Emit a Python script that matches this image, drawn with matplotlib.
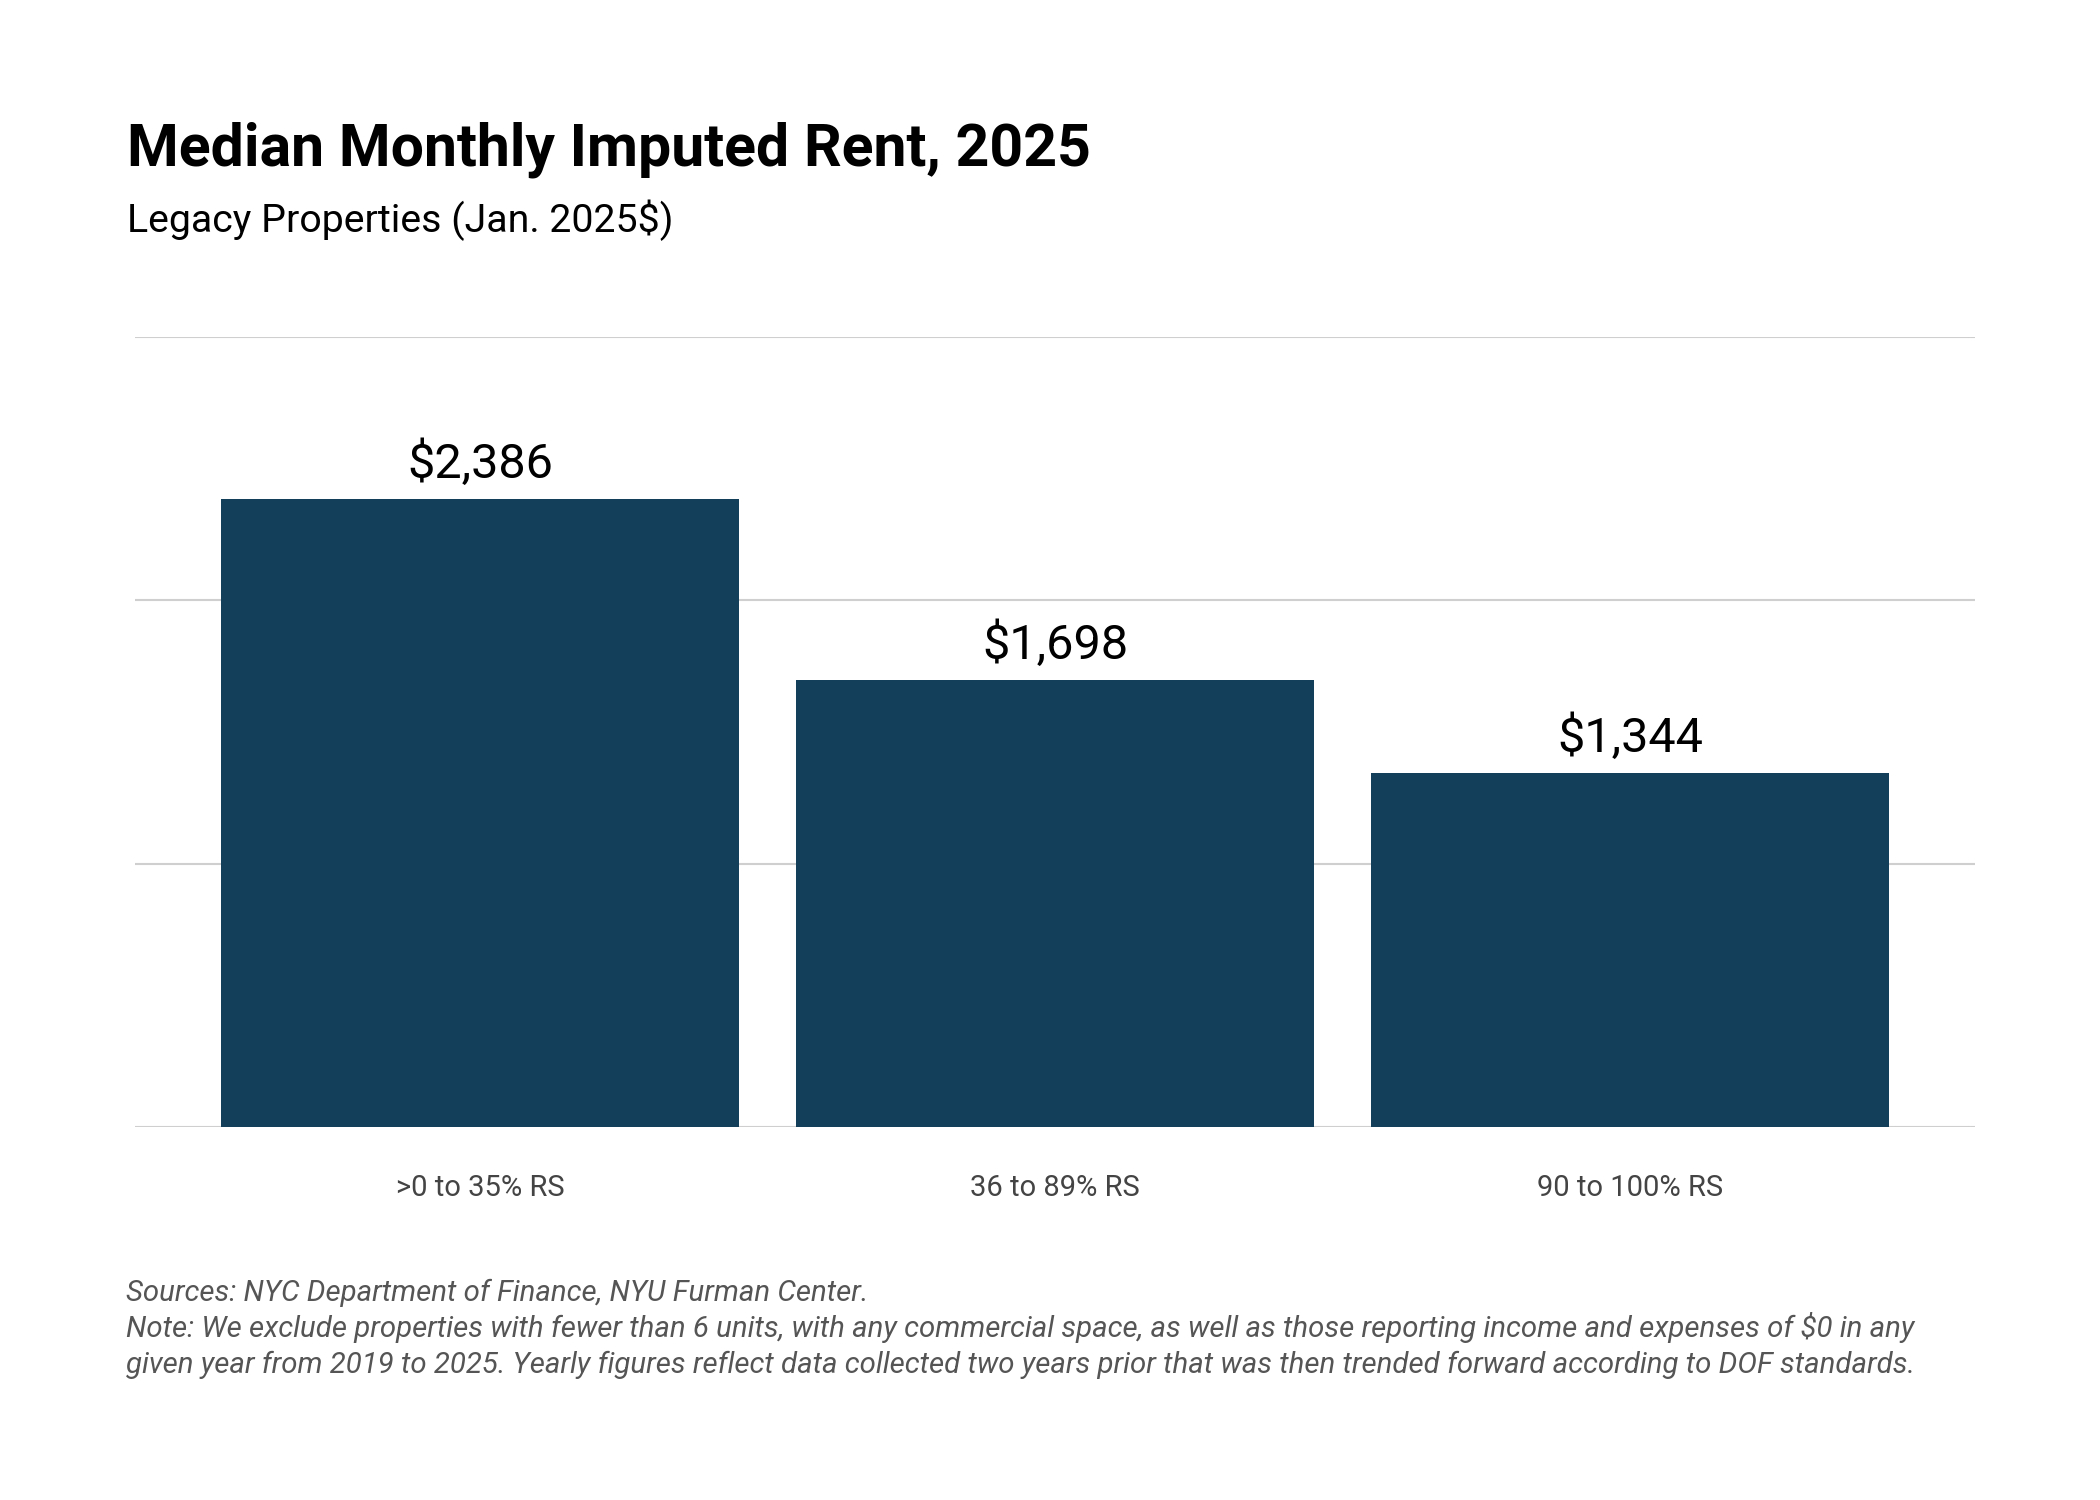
import matplotlib
matplotlib.use("Agg")
import matplotlib.pyplot as plt

categories = [">0 to 35% RS", "36 to 89% RS", "90 to 100% RS"]
values = [2386, 1698, 1344]
value_labels = ["$2,386", "$1,698", "$1,344"]
y_ticks = [0, 1000, 2000, 3000]

title = "Median Monthly Imputed Rent, 2025"
subtitle = "Legacy Properties (Jan. 2025$)"
foot_lines = [
    "Sources: NYC Department of Finance, NYU Furman Center.",
    "Note: We exclude properties with fewer than 6 units, with any commercial space, as well as those reporting income and expenses of $0 in any",
    "given year from 2019 to 2025. Yearly figures reflect data collected two years prior that was then trended forward according to DOF standards.",
]

plt.rcParams['font.family'] = ['Roboto', 'DejaVu Sans']

W, H = 2100, 1500
fig = plt.figure(figsize=(21, 15), dpi=100)
fig.patch.set_facecolor("white")

ax = fig.add_axes([135 / W, 1 - 1127 / H, (1975 - 135) / W, (1127 - 337) / H])
x = list(range(len(categories)))
bars = ax.bar(x, values, width=0.9, color="#143f5a", zorder=3)
ax.set_xlim(-0.6, 2.6)
ax.set_ylim(0, 3000)
ax.set_yticks(y_ticks)
ax.set_yticklabels([])
ax.yaxis.grid(True, color="#cfcfcf", linewidth=1.5, zorder=0)
ax.set_axisbelow(True)
for s in ax.spines.values():
    s.set_visible(False)
ax.tick_params(axis="y", length=0)
ax.set_xticks(x)
ax.set_xticklabels(categories, fontsize=21, color="#444444")
ax.tick_params(axis="x", length=0, pad=34)

for xi, v, lab in zip(x, values, value_labels):
    ax.annotate(lab, (xi, v), xytext=(0, 15), textcoords="offset points",
                ha="center", va="baseline", fontsize=35, color="black")

fig.text(127 / W, 1 - 165 / H, title, fontsize=42.5, fontweight="bold",
         color="black", ha="left", va="baseline")
fig.text(127 / W, 1 - 232 / H, subtitle, fontsize=28.3, color="black",
         ha="left", va="baseline")

for i, line in enumerate(foot_lines):
    fig.text(126 / W, 1 - (1301 + 36 * i) / H, line, fontsize=21.2,
             style="italic", color="#555555", ha="left", va="baseline")

fig.savefig("out.png", dpi=100, facecolor="white")
